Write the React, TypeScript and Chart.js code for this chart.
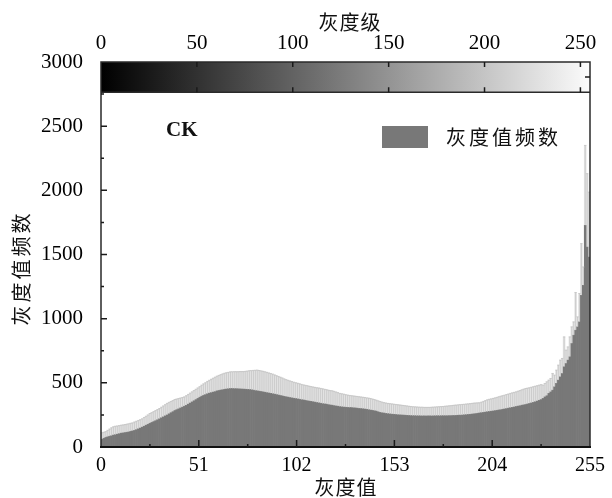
import React, { useEffect, useRef } from "react";
import { Chart, registerables } from "chart.js";

Chart.register(...registerables);

// Histogram frequency for each grey-level bin (0..254, each bin is one unit wide)
const frequency: number[] = [
  60, 68, 75, 80, 84, 88, 93, 96, 100, 104, 108, 110, 113, 115, 118, 122,
  126, 130, 136, 142, 148, 155, 162, 170, 177, 185, 192, 199, 206, 213, 220, 228,
  235, 243, 250, 259, 268, 276, 285, 292, 298, 305, 311, 318, 325, 334, 343, 352,
  361, 370, 379, 388, 396, 403, 409, 415, 420, 424, 428, 432, 438, 441, 444, 447,
  450, 452, 454, 456, 456, 455, 455, 454, 453, 452, 451, 450, 449, 448, 446, 443,
  440, 438, 435, 433, 430, 427, 424, 421, 418, 415, 412, 409, 405, 402, 399, 395,
  392, 389, 386, 383, 380, 378, 375, 372, 369, 367, 364, 361, 358, 356, 353, 350,
  347, 344, 341, 338, 336, 334, 331, 328, 326, 323, 320, 318, 315, 313, 311, 310,
  309, 308, 308, 306, 305, 303, 301, 300, 298, 296, 294, 291, 288, 286, 283, 280,
  275, 270, 267, 265, 262, 260, 258, 256, 255, 254, 252, 251, 250, 249, 248, 247,
  246, 245, 244, 244, 243, 243, 243, 242, 243, 242, 243, 243, 242, 243, 243, 244,
  243, 244, 244, 244, 244, 245, 245, 246, 246, 247, 248, 248, 249, 251, 252, 254,
  255, 257, 259, 261, 263, 266, 268, 270, 272, 275, 277, 279, 281, 284, 286, 289,
  291, 294, 297, 300, 303, 306, 309, 312, 316, 319, 322, 326, 329, 332, 336, 340,
  344, 348, 353, 358, 364, 370, 379, 391, 400, 418, 430, 443, 469, 496, 521, 547,
  573, 625, 651, 677, 703, 807, 871, 910, 936, 975, 1182, 1260, 1727, 1558, 1480,
];

// Upper error (standard deviation) of each bin
const stdDev: number[] = [
  51, 47, 45, 50, 56, 62, 65, 66, 64, 63, 62, 62, 62, 63, 63, 63,
  62, 65, 65, 65, 65, 65, 68, 70, 73, 76, 76, 77, 78, 79, 80, 82,
  85, 87, 90, 89, 87, 86, 85, 82, 80, 77, 75, 73, 75, 76, 77, 78,
  79, 80, 81, 82, 86, 89, 92, 96, 100, 104, 108, 112, 114, 117, 120, 123,
  125, 127, 128, 130, 130, 132, 132, 133, 135, 136, 137, 140, 143, 147, 149, 154,
  158, 161, 161, 160, 160, 159, 158, 156, 155, 153, 150, 147, 145, 142, 139, 136,
  133, 131, 129, 127, 125, 123, 122, 121, 119, 117, 117, 117, 116, 115, 115, 115,
  115, 116, 116, 116, 114, 113, 112, 112, 112, 111, 109, 106, 103, 102, 101, 98,
  96, 94, 92, 92, 91, 91, 91, 90, 90, 90, 89, 90, 90, 88, 87, 85,
  85, 85, 83, 81, 81, 80, 80, 80, 79, 78, 78, 77, 76, 75, 74, 73,
  72, 71, 70, 69, 69, 68, 67, 68, 66, 67, 66, 66, 68, 68, 69, 69,
  71, 71, 72, 74, 75, 76, 77, 78, 80, 80, 81, 82, 83, 82, 83, 82,
  83, 83, 83, 82, 81, 79, 82, 86, 90, 93, 95, 96, 98, 99, 101, 103,
  105, 106, 107, 109, 110, 112, 113, 114, 114, 116, 118, 120, 122, 124, 123, 122,
  122, 122, 121, 120, 118, 116, 103, 104, 108, 103, 104, 130, 91, 103, 117, 130,
  117, 233, 104, 103, 155, 129, 104, 294, 78, 221, 403, 143, 623, 572, 506,
];

const bottomTicks = [0, 51, 102, 153, 204, 255];
const bottomMinorTicks = [25.5, 76.5, 127.5, 178.5, 229.5];
const topTicks = [0, 50, 100, 150, 200, 250];
const yTicks = [0, 500, 1000, 1500, 2000, 2500, 3000];
const yMinorTicks = [250, 750, 1250, 1750, 2250, 2750];
const xMin = 0;
const xMax = 255;
const yMax = 3000;
const colorbarFloor = 2765;

const seriesLabel = "灰度值频数";
const panelLabel = "CK";
const xTitle = "灰度值";
const topTitle = "灰度级";
const yTitle = "灰度值频数";

const SERIF = "'Liberation Serif', 'Times New Roman', serif";
const CJK = "'Noto Sans CJK SC', sans-serif";
const BAR_COLOR = "#787878";
const ERR_COLOR = "#e4e4e4";

const decorPlugin = {
  id: "decor",
  afterDatasetsDraw(chart: any) {
    const { ctx, chartArea: a, scales } = chart;
    const x = scales.x;
    const y = scales.y;
    const x2 = scales.x2;
    ctx.save();

    // error whiskers
    const meta = chart.getDatasetMeta(1);
    ctx.strokeStyle = "#bcbcbc";
    ctx.lineWidth = 0.6;
    meta.data.forEach((el: any) => {
      const top = Math.min(el.y, el.base);
      const bot = Math.max(el.y, el.base);
      ctx.beginPath();
      ctx.moveTo(el.x, bot);
      ctx.lineTo(el.x, top);
      ctx.moveTo(el.x - 1.2, top);
      ctx.lineTo(el.x + 1.2, top);
      ctx.stroke();
    });

    // grey-level colour band
    const bandTop = y.getPixelForValue(yMax);
    const bandBottom = y.getPixelForValue(colorbarFloor);
    const grad = ctx.createLinearGradient(x2.getPixelForValue(0), 0, x2.getPixelForValue(255), 0);
    grad.addColorStop(0, "#000000");
    grad.addColorStop(1, "#fbfbfb");
    ctx.fillStyle = grad;
    ctx.fillRect(a.left, bandTop, a.right - a.left, bandBottom - bandTop);

    // frame
    ctx.strokeStyle = "#2a2a2a";
    ctx.lineWidth = 1.5;
    ctx.strokeRect(a.left, a.top, a.right - a.left, a.bottom - a.top);
    ctx.beginPath();
    ctx.moveTo(a.left, bandBottom);
    ctx.lineTo(a.right, bandBottom);
    ctx.stroke();
    ctx.lineWidth = 2.2;
    ctx.strokeStyle = "#111";
    ctx.beginPath();
    ctx.moveTo(a.left - 1, a.bottom);
    ctx.lineTo(a.right + 1, a.bottom);
    ctx.stroke();

    // inward ticks
    ctx.strokeStyle = "#1a1a1a";
    ctx.lineWidth = 1.5;
    ctx.beginPath();
    yTicks.forEach((v) => {
      if (v <= 0 || v >= yMax) return;
      const py = y.getPixelForValue(v);
      ctx.moveTo(a.left, py);
      ctx.lineTo(a.left + 6, py);
    });
    yMinorTicks.forEach((v) => {
      const py = y.getPixelForValue(v);
      ctx.moveTo(a.left, py);
      ctx.lineTo(a.left + 3, py);
    });
    bottomTicks.forEach((v) => {
      if (v <= xMin || v >= xMax) return;
      const px = x.getPixelForValue(v);
      ctx.moveTo(px, a.bottom);
      ctx.lineTo(px, a.bottom - 7);
    });
    bottomMinorTicks.forEach((v) => {
      const px = x.getPixelForValue(v);
      ctx.moveTo(px, a.bottom);
      ctx.lineTo(px, a.bottom - 3);
    });
    topTicks.forEach((v) => {
      if (v <= xMin) return;
      const px = x2.getPixelForValue(v);
      ctx.moveTo(px, bandTop);
      ctx.lineTo(px, bandTop + 5);
      ctx.moveTo(px, bandBottom);
      ctx.lineTo(px, bandBottom - 5);
    });
    const midBand = (bandTop + bandBottom) / 2;
    ctx.moveTo(a.right, midBand);
    ctx.lineTo(a.right - 5, midBand);
    ctx.stroke();

    // legend
    ctx.fillStyle = BAR_COLOR;
    ctx.fillRect(382, 126, 46, 22);
    ctx.fillStyle = "#111";
    ctx.font = `20px ${CJK}`;
    ctx.textAlign = "left";
    ctx.textBaseline = "middle";
    (ctx as any).letterSpacing = "3px";
    ctx.fillText(seriesLabel, 446, 137);

    // panel label
    (ctx as any).letterSpacing = "0px";
    ctx.font = `bold 21px ${SERIF}`;
    ctx.fillText(panelLabel, 166, 131);

    // axis titles
    ctx.textAlign = "center";
    ctx.font = `20px ${CJK}`;
    (ctx as any).letterSpacing = "1px";
    ctx.fillText(topTitle, 350, 22);
    ctx.fillText(xTitle, 346, 487);
    ctx.translate(21, 268);
    ctx.rotate(-Math.PI / 2);
    (ctx as any).letterSpacing = "3px";
    ctx.fillText(yTitle, 0, 0);
    ctx.restore();
  },
};

export default function App() {
  const canvasRef = useRef<HTMLCanvasElement | null>(null);

  useEffect(() => {
    const canvas = canvasRef.current;
    if (!canvas) return;
    const chart = new Chart(canvas, {
      type: "bar",
      data: {
        datasets: [
          {
            label: seriesLabel,
            data: frequency.map((v, i) => ({ x: i + 0.5, y: v })) as any,
            backgroundColor: BAR_COLOR,
            borderWidth: 0,
            barPercentage: 1,
            categoryPercentage: 1,
            grouped: false,
            xAxisID: "x",
            yAxisID: "y",
          } as any,
          {
            label: "sd",
            data: frequency.map((v, i) => ({ x: i + 0.5, y: [v, v + stdDev[i]] })) as any,
            backgroundColor: ERR_COLOR,
            borderWidth: 0,
            barPercentage: 1,
            categoryPercentage: 1,
            grouped: false,
            xAxisID: "x",
            yAxisID: "y",
          } as any,
        ],
      },
      options: {
        animation: false,
        responsive: false,
        maintainAspectRatio: false,
        devicePixelRatio: 1,
        layout: { padding: { left: 0, right: 20, top: 0, bottom: 0 } },
        plugins: { legend: { display: false }, tooltip: { enabled: false } },
        scales: {
          x: {
            type: "linear",
            position: "bottom",
            min: xMin,
            max: xMax,
            offset: false,
            grid: { display: false, drawTicks: false },
            border: { display: false },
            afterBuildTicks: (s: any) => {
              s.ticks = bottomTicks.map((v) => ({ value: v }));
            },
            afterFit: (s: any) => {
              s.height = 51;
            },
            ticks: {
              autoSkip: false,
              maxRotation: 0,
              padding: 7,
              color: "#000",
              font: { family: SERIF, size: 20 },
              callback: (v: any) => String(v),
            },
          },
          x2: {
            type: "linear",
            position: "top",
            min: xMin,
            max: xMax,
            offset: false,
            grid: { display: false, drawTicks: false },
            border: { display: false },
            afterBuildTicks: (s: any) => {
              s.ticks = topTicks.map((v) => ({ value: v }));
            },
            afterFit: (s: any) => {
              s.height = 62;
            },
            ticks: {
              autoSkip: false,
              maxRotation: 0,
              padding: 6,
              color: "#000",
              font: { family: SERIF, size: 21 },
              callback: (v: any) => String(v),
            },
          },
          y: {
            type: "linear",
            position: "left",
            min: 0,
            max: yMax,
            grid: { display: false, drawTicks: false },
            border: { display: false },
            afterBuildTicks: (s: any) => {
              s.ticks = yTicks.map((v) => ({ value: v }));
            },
            afterFit: (s: any) => {
              s.width = 101;
            },
            ticks: {
              autoSkip: false,
              padding: 18,
              color: "#000",
              font: { family: SERIF, size: 21 },
              callback: (v: any) => String(v),
            },
          },
        },
      } as any,
      plugins: [decorPlugin],
    });
    return () => chart.destroy();
  }, []);

  return (
    <div style={{ position: "absolute", left: 0, top: 0, width: 612, height: 498, background: "#fff" }}>
      <canvas ref={canvasRef} width={612} height={498} style={{ display: "block", width: 612, height: 498 }} />
    </div>
  );
}
